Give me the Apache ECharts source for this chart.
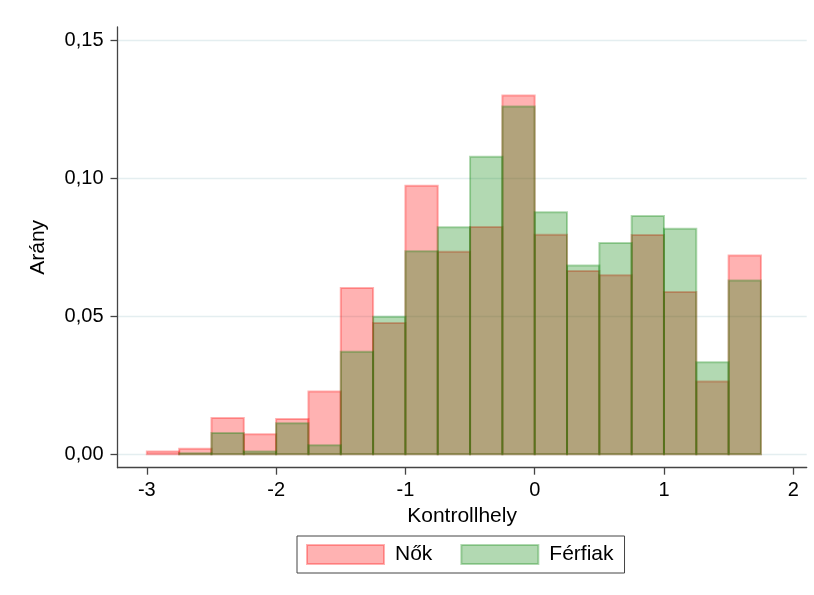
<!DOCTYPE html>
<html>
<head>
<meta charset="utf-8">
<script src="https://cdn.jsdelivr.net/npm/echarts@6/dist/echarts.min.js"></script>
<style>
html,body{margin:0;padding:0;background:#fff;}
#chart{width:814px;height:595px;}
</style>
</head>
<body>
<div id="chart"></div>
<script>
// Bin edges (width 0.25)
var binStarts = [-3, -2.75, -2.5, -2.25, -2, -1.75, -1.5, -1.25, -1, -0.75, -0.5, -0.25, 0, 0.25, 0.5, 0.75, 1, 1.25, 1.5];
var binEnds   = [-2.75, -2.5, -2.25, -2, -1.75, -1.5, -1.25, -1, -0.75, -0.5, -0.25, 0, 0.25, 0.5, 0.75, 1, 1.25, 1.5, 1.75];
// Proportions
var nok     = [0.0010, 0.0020, 0.0131, 0.0073, 0.0128, 0.0227, 0.0602, 0.0475, 0.0972, 0.0733, 0.0823, 0.1299, 0.0795, 0.0664, 0.0648, 0.0794, 0.0588, 0.0264, 0.0720];
var ferfiak = [0,      0.0004, 0.0077, 0.0010, 0.0112, 0.0033, 0.0371, 0.0498, 0.0735, 0.0822, 0.1077, 0.1259, 0.0876, 0.0684, 0.0765, 0.0863, 0.0817, 0.0333, 0.0629];
var xTicks = [-3, -2, -1, 0, 1, 2];
var yTicks = [0, 0.05, 0.10, 0.15];
var seriesNames = ['Nők', 'Férfiak'];
var xTitle = 'Kontrollhely';
var yTitle = 'Arány';

var FONT = 'Liberation Sans, Arial, sans-serif';
var RED_FILL = 'rgba(255,0,0,0.3)', RED_LINE = 'rgba(255,0,0,0.3)';
var GREEN_FILL = 'rgba(0,128,0,0.3)', GREEN_LINE = 'rgba(0,128,0,0.3)';

function makeData(vals) {
  return vals.map(function (v, i) { return [binStarts[i], binEnds[i], v]; });
}
function makeRender(fill, stroke) {
  return function (params, api) {
    if (api.value(2) <= 0) return null;
    var p0 = api.coord([api.value(0), api.value(2)]);
    var p1 = api.coord([api.value(1), 0]);
    return {
      type: 'rect',
      shape: { x: p0[0], y: p0[1], width: p1[0] - p0[0], height: p1[1] - p0[1] },
      style: { fill: fill, stroke: stroke, lineWidth: 2 }
    };
  };
}

var chart = echarts.init(document.getElementById('chart'), null, { renderer: 'canvas' });
chart.setOption({
  animation: false,
  backgroundColor: '#fff',
  textStyle: { fontFamily: FONT },
  grid: [
    { left: 117.5, right: 7.3, top: 40, bottom: 140.7 },
    { left: 117.5, right: 7.3, top: 27, bottom: 127.3 }
  ],
  legend: {
    data: seriesNames,
    left: 297, top: 536,
    orient: 'horizontal',
    icon: 'rect',
    itemWidth: 77, itemHeight: 19, itemGap: 28,
    padding: [8, 11, 8, 9],
    borderColor: '#444', borderWidth: 1,
    textStyle: { fontSize: 21, color: '#000', fontFamily: FONT, padding: [0, 0, 0, 6] },
    selectedMode: false
  },
  xAxis: [
    {
      gridIndex: 0, type: 'value', min: -3.227, max: 2.104, offset: 13.4,
      axisLine: { show: true, onZero: false, lineStyle: { color: '#444', width: 1.3 } },
      axisTick: { show: true, length: 7, customValues: xTicks, lineStyle: { color: '#444', width: 1.3 } },
      axisLabel: { show: true, customValues: xTicks, fontSize: 20, color: '#000', margin: 13, fontFamily: FONT },
      splitLine: { show: false },
      name: xTitle, nameLocation: 'middle', nameGap: 33,
      nameTextStyle: { fontSize: 21, color: '#000', fontFamily: FONT }
    },
    {
      gridIndex: 1, type: 'value', min: -3.227, max: 2.104, show: false
    }
  ],
  yAxis: [
    {
      gridIndex: 0, type: 'value', min: 0, max: 0.15, interval: 0.05,
      axisLine: { show: false, onZero: false },
      axisTick: { show: true, length: 7, lineStyle: { color: '#444', width: 1.3 } },
      axisLabel: {
        fontSize: 20, color: '#000', margin: 14, fontFamily: FONT,
        formatter: function (v) { return v.toFixed(2).replace('.', ','); }
      },
      splitLine: { show: true, lineStyle: { color: '#e4eef0', width: 1.3 } }
    },
    {
      gridIndex: 1, type: 'value', min: 0, max: 1,
      axisLine: { show: true, onZero: false, lineStyle: { color: '#444', width: 1.3 } },
      axisTick: { show: false }, axisLabel: { show: false }, splitLine: { show: false },
      name: yTitle, nameLocation: 'middle', nameGap: 69, nameRotate: 90,
      nameTextStyle: { fontSize: 21, color: '#000', fontFamily: FONT }
    }
  ],
  series: [
    {
      name: seriesNames[0], type: 'custom', xAxisIndex: 0, yAxisIndex: 0,
      data: makeData(nok), renderItem: makeRender(RED_FILL, RED_LINE),
      itemStyle: { color: RED_FILL, borderColor: RED_LINE, borderWidth: 1.6 },
      encode: { x: [0, 1], y: 2 }
    },
    {
      name: seriesNames[1], type: 'custom', xAxisIndex: 0, yAxisIndex: 0,
      data: makeData(ferfiak), renderItem: makeRender(GREEN_FILL, GREEN_LINE),
      itemStyle: { color: GREEN_FILL, borderColor: GREEN_LINE, borderWidth: 1.6 },
      encode: { x: [0, 1], y: 2 }
    }
  ]
});
</script>
</body>
</html>
